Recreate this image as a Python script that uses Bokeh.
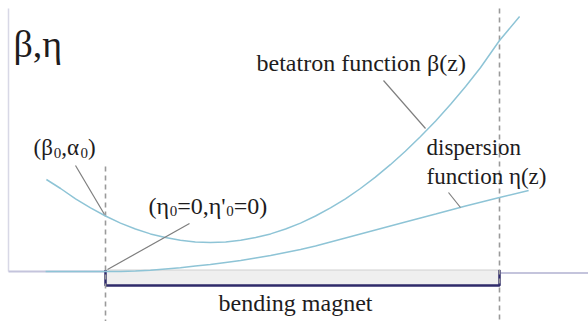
from bokeh.plotting import figure
from bokeh.models import Range1d
from bokeh.embed import file_html
from bokeh.resources import INLINE
from bokeh.core.properties import value

# ---- data (z in units of magnet length: entrance 0, exit 1; amplitude in arbitrary units) ----
beta_z = [-0.150, -0.114, -0.076, -0.038, 0.0, 0.038, 0.076, 0.114, 0.152, 0.190,
          0.228, 0.266, 0.305, 0.343, 0.381, 0.419, 0.457, 0.495, 0.533, 0.571,
          0.609, 0.647, 0.685, 0.723, 0.761, 0.799, 0.838, 0.876, 0.914, 0.952,
          1.0, 1.051]
beta_v = [0.92, 0.83, 0.727, 0.636, 0.555, 0.484, 0.425, 0.376, 0.339, 0.312,
          0.295, 0.29, 0.295, 0.312, 0.339, 0.376, 0.425, 0.484, 0.555, 0.636,
          0.727, 0.83, 0.943, 1.068, 1.203, 1.348, 1.505, 1.672, 1.85, 2.04,
          2.31, 2.55]
eta_z = [-0.152, 0.0, 0.038, 0.076, 0.114, 0.152, 0.190, 0.228, 0.266, 0.305,
         0.343, 0.381, 0.419, 0.457, 0.495, 0.533, 0.609, 0.685, 0.761, 0.838,
         0.914, 1.0, 1.074]
eta_v = [0.0, 0.0, 0.0, 0.005, 0.012, 0.025, 0.038, 0.055, 0.07, 0.09,
         0.11, 0.135, 0.16, 0.19, 0.22, 0.255, 0.335, 0.415, 0.495, 0.575,
         0.655, 0.74, 0.81]
magnet_start = 0.0
magnet_end = 1.0
magnet_label = "bending magnet"
beta_label = "betatron function β(z)"
eta_label_1 = "dispersion"
eta_label_2 = "function η(z)"
axis_label = "β,η"

# ---- layout helpers (screen pixel -> data) ----
def px2z(px):
    return (px - 105.0) / 394.0

def px2v(py):
    return (271.0 - py) / 100.0

W, H = 588, 321
p = figure(width=W, height=H, output_backend="svg", toolbar_location=None,
           x_range=Range1d(px2z(0), px2z(W)), y_range=Range1d(px2v(H), px2v(0)),
           x_axis_type=None, y_axis_type=None, min_border=0,
           outline_line_color=None, background_fill_color="white")
p.grid.visible = False

SERIF = value("Liberation Serif")
TXT = "#1e1c1d"
CURVE = "#8ec4d6"
LEAD = "#7e7e7e"
AX = "#c4c4dc"

# axis lines
p.segment(x0=[px2z(8)], y0=[px2v(8)], x1=[px2z(8)], y1=[px2v(271)], line_color="#d8d8e6", line_width=1.5)
p.segment(x0=[px2z(8)], y0=[0], x1=[magnet_start], y1=[0], line_color=AX, line_width=2)
p.segment(x0=[magnet_end], y0=[px2v(272.5)], x1=[px2z(600)], y1=[px2v(272.5)], line_color=AX, line_width=2)

# magnet
p.quad(left=[magnet_start], right=[magnet_end], bottom=[px2v(285)], top=[px2v(269.5)],
       fill_color="#efefef", line_color="#d0d0d0", line_width=1)
p.line([magnet_start, magnet_start, magnet_end, magnet_end],
       [px2v(269.5), px2v(285), px2v(285), px2v(269.5)], line_color="#2e2a6a", line_width=2.5)

# dashed markers
p.segment(x0=[magnet_start, magnet_end], y0=[px2v(166), px2v(8)],
          x1=[magnet_start, magnet_end], y1=[px2v(330), px2v(330)],
          line_color="#9a9a9a", line_width=1.6, line_dash="5 4")

# curves
p.line(eta_z, eta_v, line_color=CURVE, line_width=1.5)
p.line(beta_z, beta_v, line_color=CURVE, line_width=1.5)

# leader lines
lx0 = [75, 189, 383, 448]
ly0 = [165, 223, 80, 192]
lx1 = [104, 107, 425, 460]
ly1 = [214, 269, 128, 207]
p.segment(x0=[px2z(v) for v in lx0], y0=[px2v(v) for v in ly0],
          x1=[px2z(v) for v in lx1], y1=[px2v(v) for v in ly1],
          line_color=LEAD, line_width=1.2)

DY = -7  # baseline correction

def label(txt, x, y, size, align="left"):
    p.text(x=[px2z(x)], y=[px2v(y + DY)], text=[txt], text_font=SERIF,
           text_font_size=value(size), text_color=TXT,
           text_baseline="alphabetic", text_align=align)

label(axis_label, 13, 50, "38px")
label(beta_label, 256, 69, "24px")
label(eta_label_1, 426, 154, "23px")
label(eta_label_2, 426, 183, "23px")
label(magnet_label, 218, 309, "24px")

# labels with subscripts (approximate Times-like advance widths, in em)
EM = {"(": 0.333, ")": 0.333, "=": 0.564, "0": 0.5, ",": 0.25, "'": 0.18,
      "β": 0.55, "η": 0.55, "α": 0.58}

def rich(pieces, x, y, size, subsize):
    for txt, sub in pieces:
        fs = subsize if sub else size
        label(txt, x, y + (5 if sub else 0), "%dpx" % fs)
        x += sum(EM.get(c, 0.5) for c in txt) * fs

rich([("(β", False), ("0", True), (",α", False), ("0", True), (")", False)], 33, 154, 23, 15)
rich([("(η", False), ("0", True), ("=0,η'", False), ("0", True), ("=0)", False)], 148, 212, 24, 15)

open("out.html", "w").write(file_html(p, INLINE))
